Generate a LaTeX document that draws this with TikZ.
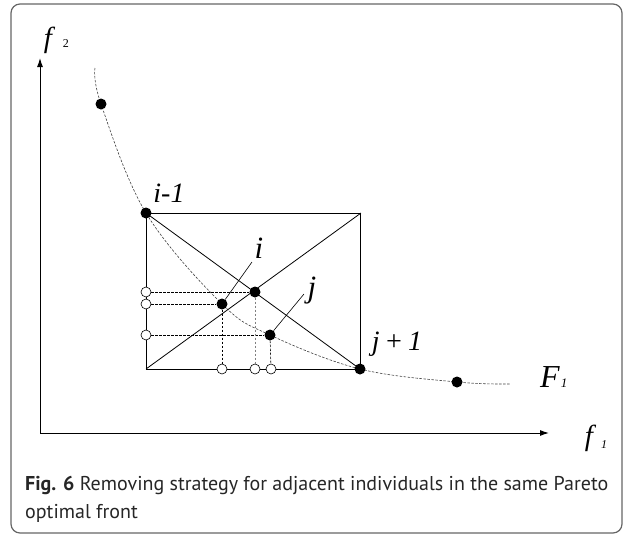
\documentclass[tikz,border=0pt]{standalone}
\usepackage{fontspec}
\setmainfont{Liberation Serif}
\newfontfamily\capfont{PT Sans}
\usetikzlibrary{arrows.meta}

\begin{document}
\begin{tikzpicture}[x=1pt, y=-1pt,
  dot/.style={circle, fill, inner sep=0pt, minimum size=11pt},
  hollow/.style={circle, draw, fill=white, inner sep=0pt, minimum size=10pt, line width=0.6pt},
  proj/.style={dashed, dash pattern=on 2.5pt off 1.5pt, line width=0.6pt},
  lbl/.style={inner sep=0pt, font=\fontsize{28}{30}\selectfont\itshape},
  captext/.style={anchor=base west, inner sep=0pt, font=\capfont\fontsize{20}{28}\selectfont, text=black!85},
  axis/.style={line width=1pt, -{Latex[length=9pt, width=6pt]}}]
  \useasboundingbox (0,0) rectangle (633,536);
  \draw [gray!80!black, line width=1.2pt, rounded corners=9pt] (11,4) rectangle (622,533);

  % axes
  \coordinate (O) at (40,433);
  \coordinate (ytip) at (40,58);
  \coordinate (xtip) at (549,433);
  \draw [axis] (O) -- (ytip);
  \draw [axis] (O) -- (xtip);
  \node (f2) [inner sep=0pt, font=\fontsize{29}{30}\selectfont\itshape] at (48,40) {f};
  \node (f2sub) [inner sep=0pt, font=\fontsize{12}{14}\selectfont] at (66,44) {2};
  \node (f1) [inner sep=0pt, font=\fontsize{29}{30}\selectfont\itshape] at (589,438) {f};
  \node (f1sub) [inner sep=0pt, font=\fontsize{12}{14}\selectfont\itshape] at (604,445) {1};

  % pareto front
  \draw [proj, gray!50!black] plot [smooth, tension=0.6] coordinates
    {(95,68) (101,104) (146,213) (222,304) (270,335) (360,369) (457,382) (510,384)};
  \node (F1) [inner sep=0pt, font=\fontsize{32}{34}\selectfont\itshape] at (550,377) {F};
  \node (F1sub) [inner sep=0pt, font=\fontsize{13}{14}\selectfont\itshape] at (564,383) {1};

  % box and diagonals
  \coordinate (tr) at (361,213);
  \coordinate (bl) at (146,369);
  \draw [line width=0.8pt] (146,213) rectangle (360,369);
  \draw [line width=0.8pt] (146,213) -- (360,369);
  \draw [line width=0.8pt] (bl) -- (tr);

  % individuals
  \node (p0) [dot] at (101,104) {};
  \node (im1) [dot] at (146,213) {};
  \node (ii) [dot] at (255,292) {};
  \node (ia) [dot] at (222,304) {};
  \node (jj) [dot] at (270,335) {};
  \node (jp1) [dot] at (360,369) {};
  \node (p6) [dot] at (457,382) {};

  % projections
  \node (hi) [hollow] at (146,292) {};
  \node (ha) [hollow] at (146,304) {};
  \node (hj) [hollow] at (146,335) {};
  \node (vi) [hollow] at (255,369) {};
  \node (va) [hollow] at (222,369) {};
  \node (vj) [hollow] at (271,369) {};
  \draw [proj] (hi) -- (ii);
  \draw [proj] (ha) -- (ia);
  \draw [proj] (hj) -- (jj);
  \draw [proj, gray] (ii) -- (vi);
  \draw [proj] (ia) -- (va);
  \draw [proj] (jj) -- (vj);

  % labels
  \node (lim1) [lbl] at (169,193) {i-1};
  \node (ljp1) [lbl] at (397,344) {j\,+\,1};
  \node (li) [lbl, font=\fontsize{31}{32}\selectfont\itshape] at (259,248) {i};
  \node (lj) [lbl, font=\fontsize{31}{32}\selectfont\itshape] at (312,291) {j};
  \coordinate (li end) at (252,262);
  \coordinate (lj end) at (304,294);
  \draw [line width=0.6pt] (ia) -- (li end);
  \draw [line width=0.6pt] (jj) -- (lj end);

  % caption
  \node (cap1) [captext] at (25,490)
    {\textbf{Fig. 6} Removing strategy for adjacent individuals in the same Pareto};
  \node (cap2) [captext] at (25,518) {optimal front};
\end{tikzpicture}
\end{document}
